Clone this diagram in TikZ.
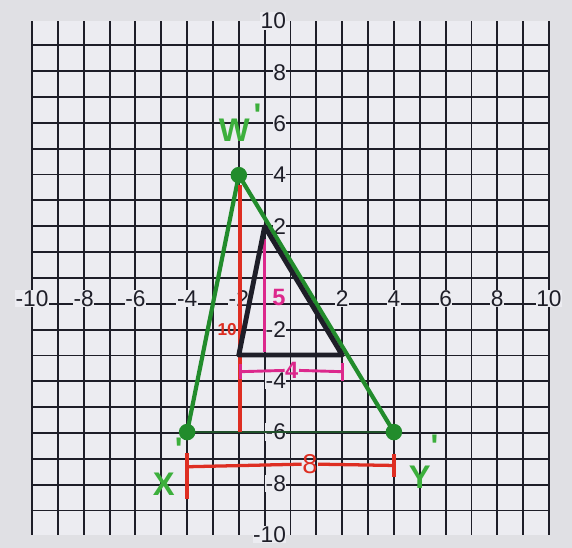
\documentclass[tikz,border=0pt]{standalone}
\usepackage{fontspec}
\setmainfont{Liberation Sans}
\definecolor{paper}{RGB}{224,224,228}
\definecolor{cell}{RGB}{236,236,241}
\definecolor{ink}{RGB}{30,30,40}
\definecolor{gr}{RGB}{34,140,44}
\definecolor{grl}{RGB}{60,175,60}
\definecolor{rd}{RGB}{222,46,34}
\definecolor{pk}{RGB}{220,40,140}
\tikzset{
  gridline/.style={ink, line width=2.1pt},
  axlabel/.style={font=\fontsize{25}{25}\selectfont, text=ink, fill=cell, inner sep=0.6pt},
  greenline/.style={gr, line width=4.6pt, line cap=round},
  greenbase/.style={gr!45!ink, line width=2.8pt},
  blackline/.style={ink, line width=5.4pt, line join=round, line cap=round},
  redline/.style={rd, line width=3.6pt},
  pinkline/.style={pk, line width=3.2pt},
  vdot/.style={circle, fill=gr, inner sep=0pt, minimum size=0.64cm},
  hand/.style={font=\fontsize{36}{36}\selectfont\bfseries, text=grl, inner sep=0pt},
  redtext/.style={font=\fontsize{19}{19}\selectfont\bfseries, text=rd, inner sep=0.5pt},
  redeight/.style={font=\fontsize{30}{30}\selectfont, text=rd, inner sep=0.5pt},
  pinktext/.style={font=\fontsize{26}{26}\selectfont\bfseries, text=pk, inner sep=0.5pt},
}
\begin{document}
\begin{tikzpicture}[x=1cm,y=0.994cm]
\fill[paper] (-11.24,-10.506) rectangle (10.89,10.817);
\useasboundingbox (-11.24,-10.506) rectangle (10.89,10.817);
\fill[cell] (-10,-10) rectangle (10,10);
\draw[gridline] (-10,-10) grid (10,10);
% axis labels
\foreach \v in {-10,-8,-6,-4,-2,2,4,6,8,10}{
  \node[axlabel] (xl\v) at (\v,-0.8) {\v};
  \node[axlabel, anchor=east] (yl\v) at (-0.15,\v) {\v};
}
% green triangle
\coordinate (W) at (-2,4);
\coordinate (X) at (-4,-6);
\coordinate (Y) at (4,-6);
\draw[greenbase] (X) -- (Y);
\draw[greenline] (X) -- (W) -- (Y);
% red height
\coordinate (rt) at (-1.95,3.6);
\coordinate (rb) at (-1.95,-6);
\draw[redline] (rt) -- (rb);
\node[redtext] (ten) at (-2.45,-2.0) {10};
% red base measure
\coordinate (ra) at (-4,-7.35);
\coordinate (rc) at (4,-7.3);
\node[redeight] (eight) at (0.75,-7.25) {8};
\draw[redline] (ra) -- (eight.west);
\draw[redline] (eight.east) -- (rc);
\draw[redline] (-4,-6.8) -- (-4,-8.6);
\draw[redline] (4,-6.85) -- (4,-7.75);
% pink height
\coordinate (pt) at (-1,1.5);
\coordinate (pb) at (-1,-2.9);
\draw[pinkline] (pt) -- (pb);
\node[pinktext] (five) at (-0.45,-0.75) {5};
% pink base measure
\coordinate (pa) at (-1.95,-3.65);
\coordinate (pc) at (2,-3.65);
\node[pinktext] (four) at (0.05,-3.6) {4};
\draw[pinkline] (pa) -- (four.west);
\draw[pinkline] (four.east) -- (pc);
\draw[pinkline] (-1.95,-3.35) -- (-1.95,-3.95);
\draw[pinkline] (2,-3.3) -- (2,-4.0);
% black triangle
\coordinate (A) at (-1,2);
\coordinate (B) at (-2,-3);
\coordinate (C) at (2,-3);
\draw[blackline] (A) -- (B) -- (C) -- cycle;
% vertex dots
\node[vdot] (Wd) at (W) {};
\node[vdot] (Xd) at (X) {};
\node[vdot] (Yd) at (Y) {};
% handwritten labels
\node[hand] (Wl) at (-1.95,6.05) {W\raisebox{0.45em}{\hspace{0.12em}\textquotesingle}};
\node[hand] (Xl) at (-4.75,-7.35) {X\raisebox{1.1em}{\textquotesingle}};
\node[hand] (Yl) at (5.15,-7.15) {Y\raisebox{0.95em}{\textquotesingle}};
\end{tikzpicture}
\end{document}
